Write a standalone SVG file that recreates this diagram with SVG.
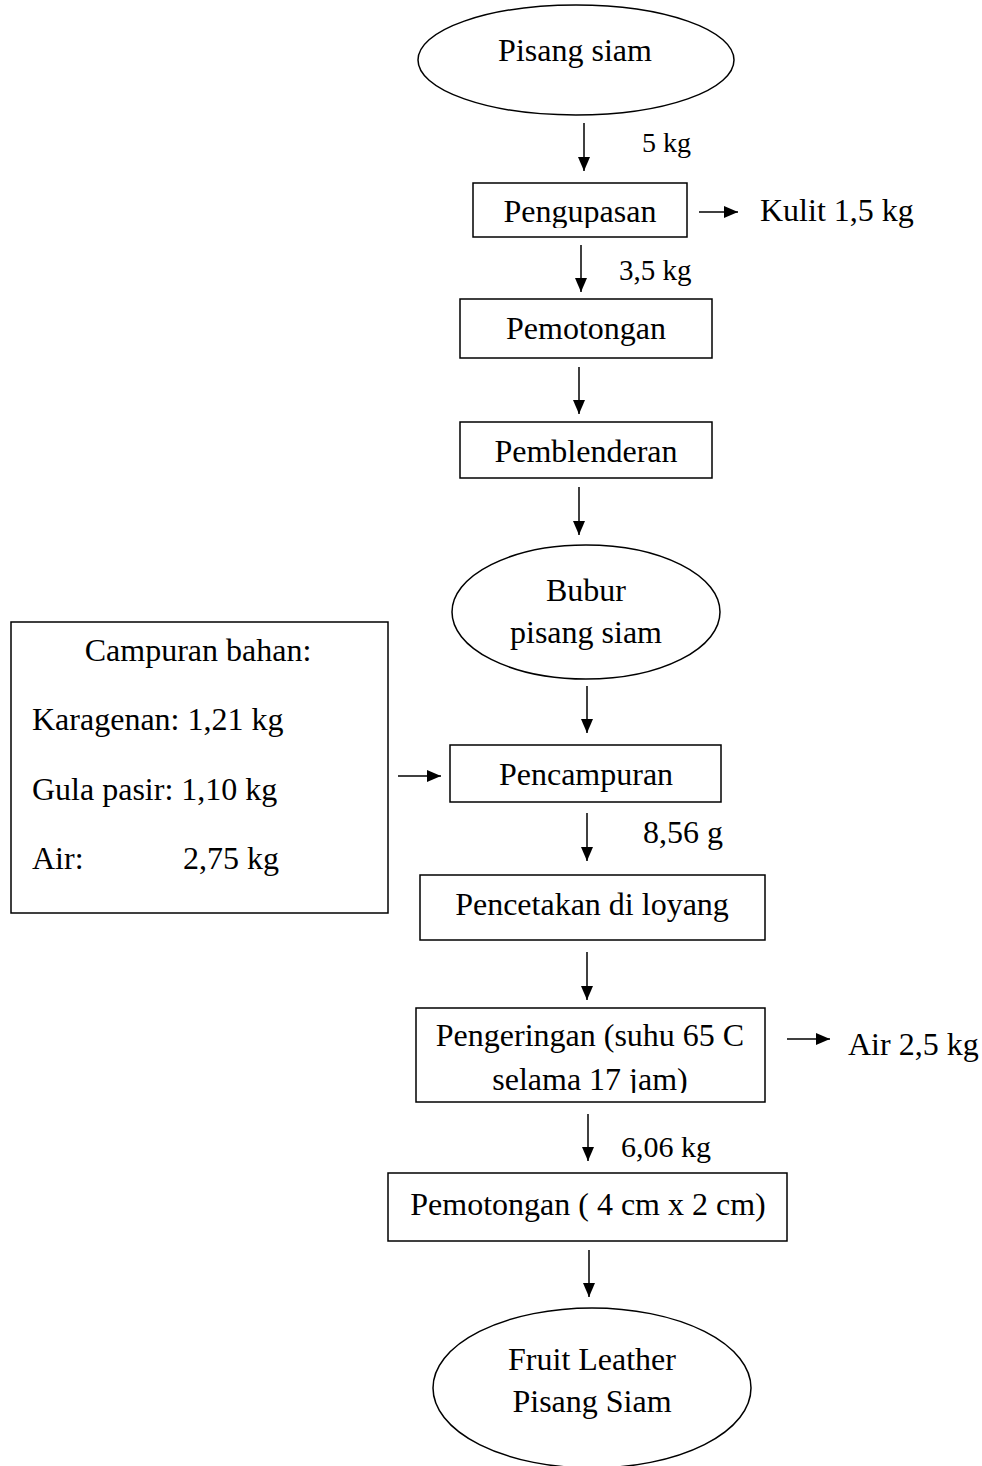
<svg xmlns="http://www.w3.org/2000/svg" width="982" height="1466" viewBox="0 0 982 1466">
<style>
text{font-family:"Liberation Serif","Times New Roman",serif;font-size:32px;fill:#000}
.c{text-anchor:middle}
.s{font-size:28px}
.m{font-size:29px}
.o{font-size:30px}
.n{fill:#fff;stroke:#000;stroke-width:1.5}
.a{stroke:#000;stroke-width:1.5;fill:none;marker-end:url(#ah)}
</style>
<defs>
<marker id="ah" markerUnits="userSpaceOnUse" markerWidth="14" markerHeight="12" refX="14" refY="6" orient="auto">
<path d="M0,0 L14,6 L0,12 z" fill="#000"/>
</marker>
<clipPath id="clip1"><rect x="470" y="180" width="220" height="48"/></clipPath>
<clipPath id="clip2"><rect x="410" y="1005" width="360" height="88"/></clipPath>
</defs>
<rect width="982" height="1466" fill="#fff"/>
<g id="connectors">
<line class="a" x1="584" y1="123" x2="584" y2="171"/>
<line class="a" x1="699" y1="212" x2="738" y2="212"/>
<line class="a" x1="581" y1="245" x2="581" y2="292"/>
<line class="a" x1="579" y1="367" x2="579" y2="414"/>
<line class="a" x1="579" y1="487" x2="579" y2="535"/>
<line class="a" x1="587" y1="686" x2="587" y2="733"/>
<line class="a" x1="398" y1="776" x2="441" y2="776"/>
<line class="a" x1="587" y1="813" x2="587" y2="861"/>
<line class="a" x1="587" y1="952" x2="587" y2="1000"/>
<line class="a" x1="787" y1="1039" x2="830" y2="1039"/>
<line class="a" x1="588" y1="1114" x2="588" y2="1161"/>
<line class="a" x1="589" y1="1250" x2="589" y2="1297"/>
</g>
<g id="n1"><ellipse class="n" cx="576" cy="60" rx="158" ry="55"/><text class="c" x="575" y="61">Pisang siam</text></g>
<g id="l1"><text class="s" x="642" y="152">5 kg</text></g>
<g id="n2"><rect class="n" x="473" y="183" width="214" height="54"/><text class="c" x="580" y="222" clip-path="url(#clip1)">Pengupasan</text></g>
<g id="l2"><text x="760" y="221">Kulit 1,5 kg</text></g>
<g id="l3"><text class="m" x="619" y="280">3,5 kg</text></g>
<g id="n3"><rect class="n" x="460" y="299" width="252" height="59"/><text class="c" x="586" y="339">Pemotongan</text></g>
<g id="n4"><rect class="n" x="460" y="422" width="252" height="56"/><text class="c" x="586" y="462">Pemblenderan</text></g>
<g id="n5"><ellipse class="n" cx="586" cy="612" rx="134" ry="67"/><text class="c" x="586" y="601">Bubur</text><text class="c" x="586" y="643">pisang siam</text></g>
<g id="n6"><rect class="n" x="11" y="622" width="377" height="291"/>
<text class="c" x="198" y="661">Campuran bahan:</text>
<text x="32" y="730">Karagenan: 1,21 kg</text>
<text x="32" y="800">Gula pasir: 1,10 kg</text>
<text x="32" y="869">Air:</text>
<text x="183" y="869">2,75 kg</text></g>
<g id="n7"><rect class="n" x="450" y="745" width="271" height="57"/><text class="c" x="586" y="785">Pencampuran</text></g>
<g id="l4"><text x="643" y="843">8,56 g</text></g>
<g id="n8"><rect class="n" x="420" y="875" width="345" height="65"/><text class="c" x="592" y="915">Pencetakan di loyang</text></g>
<g id="n9"><rect class="n" x="416" y="1008" width="349" height="94"/>
<g clip-path="url(#clip2)"><text class="c" x="590" y="1046">Pengeringan (suhu 65 C</text><text class="c" x="590" y="1090">selama 17 jam)</text></g></g>
<g id="l5"><text x="848" y="1055">Air 2,5 kg</text></g>
<g id="l6"><text class="o" x="621" y="1157">6,06 kg</text></g>
<g id="n10"><rect class="n" x="388" y="1173" width="399" height="68"/><text class="c" x="588" y="1215">Pemotongan ( 4 cm x 2 cm)</text></g>
<g id="n11"><ellipse class="n" cx="592" cy="1388" rx="159" ry="80"/><text class="c" x="592" y="1370">Fruit Leather</text><text class="c" x="592" y="1412">Pisang Siam</text></g>
</svg>
